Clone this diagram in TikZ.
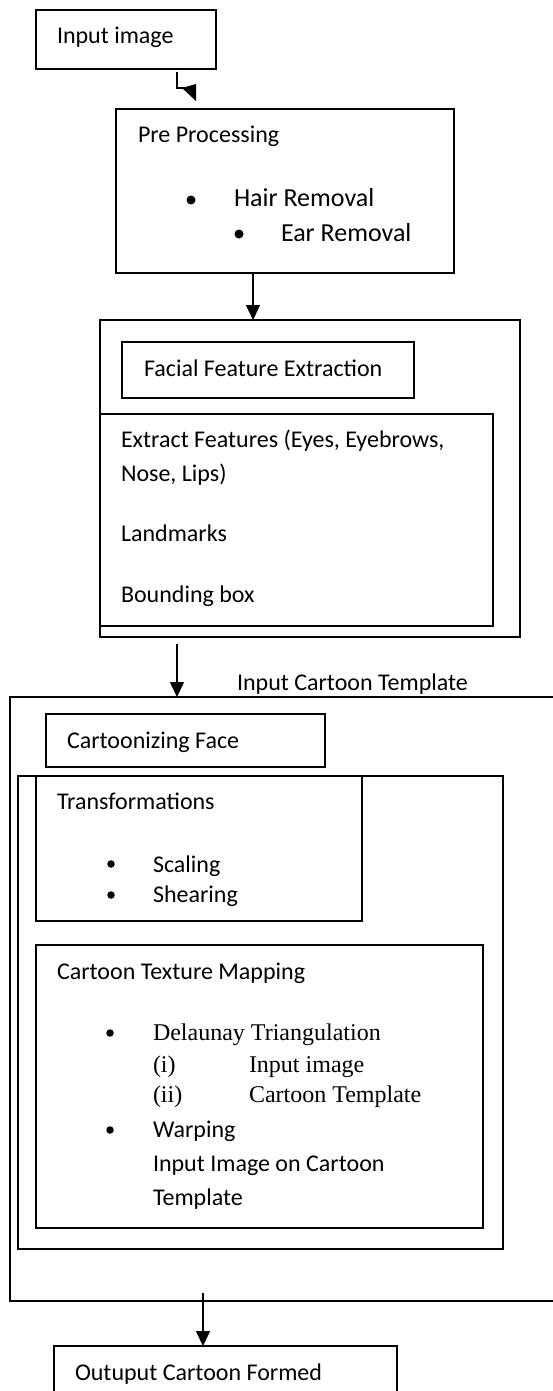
\documentclass[tikz,border=0pt]{standalone}
\usepackage{fontspec}
\setmainfont{Carlito}
\newfontfamily\tnr{Liberation Serif}
\usetikzlibrary{arrows.meta,calc}
\begin{document}
\begin{tikzpicture}[x=1pt,y=-1pt,
  box/.style={draw, line width=1.5pt, anchor=north west, inner sep=0pt, outer sep=0pt},
  txt/.style={anchor=base west, inner sep=0pt, outer sep=0pt, font=\fontsize{24}{28}\selectfont},
  bigtxt/.style={txt, font=\fontsize{26}{30}\selectfont},
  ser/.style={txt, font=\tnr\fontsize{24}{28}\selectfont},
  dot/.style={circle, fill, inner sep=0pt, minimum size=7.5pt},
  bigdot/.style={dot, minimum size=9pt},
  arr/.style={line width=1.5pt, -{Triangle[length=15pt,width=14pt]}},
  ln/.style={line width=1.5pt}]
\useasboundingbox (0,0) rectangle (553,1391);
\clip (0,0) rectangle (553,1391);
% boxes
\node[box, minimum width=180pt, minimum height=59pt] (in) at (36,10) {};
\node[box, minimum width=338pt, minimum height=164pt] (pre) at (116,109) {};
\node[box, minimum width=420pt, minimum height=317pt] (fouter) at (100,320) {};
\node[box, minimum width=292pt, minimum height=56pt] (ffe) at (122,342) {};
\node[box, minimum width=393pt, minimum height=212pt] (finner) at (100,414) {};
\node[box, minimum width=560pt, minimum height=604pt] (big) at (10,697) {};
\node[box, minimum width=279pt, minimum height=53pt] (cf) at (46,714) {};
\node[box, minimum width=485pt, minimum height=473pt] (mid) at (18,776) {};
\node[box, minimum width=326pt, minimum height=145pt] (tr) at (36,776) {};
\node[box, minimum width=447pt, minimum height=283pt] (tex) at (36,945) {};
\node[box, minimum width=343pt, minimum height=52pt] (out) at (54,1346) {};
% texts
\node[txt] (t1) at (57,44) {Input image};
\node[txt] (t2) at (138,143) {Pre Processing};
\node[bigdot] (b1) at (191,200) {};
\node[bigtxt] (t3) at (234,207) {Hair Removal};
\node[bigdot] (b2) at (239,234) {};
\node[bigtxt] (t4) at (281,241) {Ear Removal};
\node[txt] (t5) at (144,376) {Facial Feature Extraction};
\node[txt] (t6) at (121,447) {Extract Features (Eyes, Eyebrows,};
\node[txt] (t7) at (121,481) {Nose, Lips)};
\node[txt] (t8) at (121,541) {Landmarks};
\node[txt] (t9) at (121,602) {Bounding box};
\node[txt] (t10) at (237,690) {Input Cartoon Template};
\node[txt] (t11) at (67,748) {Cartoonizing Face};
\node[txt] (t12) at (57,809) {Transformations};
\node[dot] (b3) at (111,864) {};
\node[txt] (t13) at (153,872) {Scaling};
\node[dot] (b4) at (111,895) {};
\node[txt] (t14) at (153,902) {Shearing};
\node[txt] (t15) at (57,979) {Cartoon Texture Mapping};
\node[dot] (b5) at (110,1033) {};
\node[ser] (t16) at (153,1040) {Delaunay Triangulation};
\node[ser] (t17) at (153,1072) {(i)};
\node[ser] (t18) at (249,1072) {Input image};
\node[ser] (t19) at (153,1102) {(ii)};
\node[ser] (t20) at (249,1102) {Cartoon Template};
\node[dot] (b6) at (110,1130) {};
\node[txt] (t21) at (153,1137) {Warping};
\node[txt] (t22) at (153,1171) {Input Image on Cartoon};
\node[txt] (t23) at (153,1205) {Template};
\node[txt] (t24) at (75,1380) {Outuput Cartoon Formed};
% connectors
\coordinate (e0) at ($(in.south west)+(141,3)$);
\coordinate (e1) at ($(e0)+(0,16)$);
\coordinate (e2) at ($(e1)+(8,0)$);
\coordinate (e3) at ($(e1)+(19,13)$);
\draw[ln] (e0) -- (e1) -- (e2);
\fill ($(e1)+(5,0)$) -- ($(e3)+(0,-17)$) -- (e3) -- cycle;
\coordinate (a1) at ($(pre.south west)+(137,0)$);
\draw[arr] (a1) -- (a1 |- fouter.north);
\coordinate (a2) at ($(fouter.south west)+(77,7)$);
\draw[arr] (a2) -- (a2 |- big.north);
\coordinate (a3) at ($(big.south west)+(193,-8)$);
\draw[arr] (a3) -- (a3 |- out.north);
\end{tikzpicture}
\end{document}
